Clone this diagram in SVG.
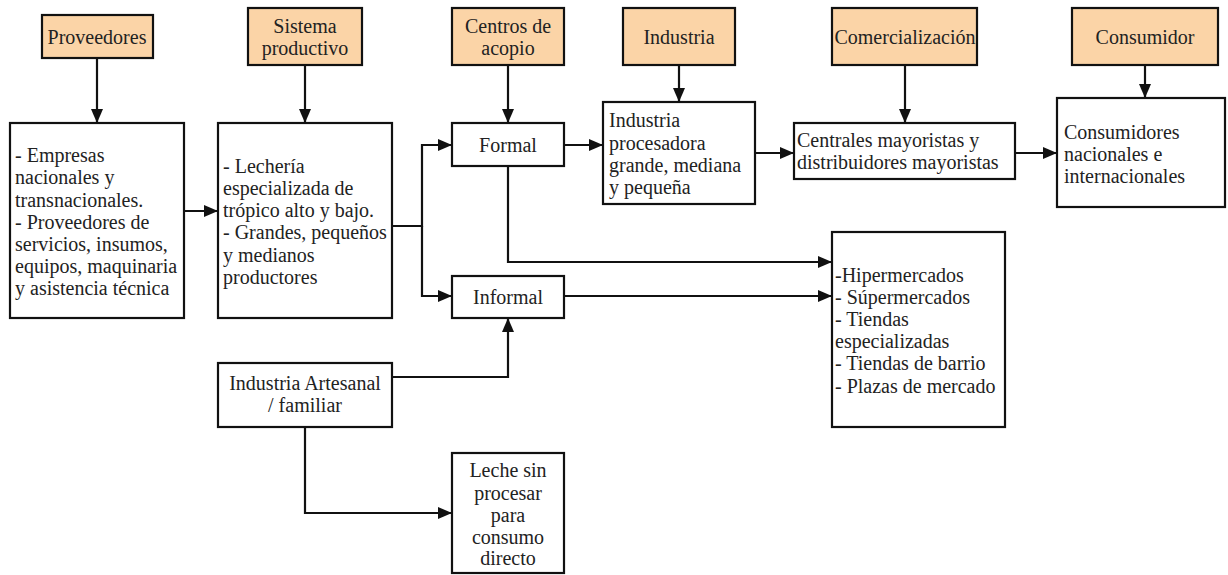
<svg xmlns="http://www.w3.org/2000/svg" width="1228" height="575" viewBox="0 0 1228 575">
<defs>
<style>
.hdr{fill:#FBD4A7;stroke:#111;stroke-width:2.2}
.box{fill:#fff;stroke:#111;stroke-width:2.2}
text{font-family:"Liberation Serif","DejaVu Serif",serif;font-size:20px;fill:#222}
.c{text-anchor:middle}
.conn path{fill:none;stroke:#111;stroke-width:2.2;marker-end:url(#ah)}
</style>
<marker id="ah" viewBox="0 0 14 12" refX="14" refY="6" markerWidth="14" markerHeight="12" markerUnits="userSpaceOnUse" orient="auto">
<path d="M0 0L14 6L0 12Z" fill="#111"/>
</marker>
</defs>
<rect width="1228" height="575" fill="#fff"/>

<g id="h-proveedores"><rect class="hdr" x="42" y="15" width="111" height="43"/><text class="c" x="97" y="44">Proveedores</text></g>
<g id="h-sistema"><rect class="hdr" x="248" y="8" width="114" height="57"/><text class="c" x="305" y="33">Sistema</text><text class="c" x="305" y="55">productivo</text></g>
<g id="h-centros"><rect class="hdr" x="452" y="8" width="112" height="57"/><text class="c" x="508" y="33">Centros de</text><text class="c" x="508" y="55">acopio</text></g>
<g id="h-industria"><rect class="hdr" x="623" y="8" width="112" height="57"/><text class="c" x="679" y="44">Industria</text></g>
<g id="h-comercializacion"><rect class="hdr" x="832" y="8" width="145" height="57"/><text class="c" x="905" y="44">Comercialización</text></g>
<g id="h-consumidor"><rect class="hdr" x="1072" y="8" width="146" height="57"/><text class="c" x="1145" y="44">Consumidor</text></g>

<g id="n-proveedores"><rect class="box" x="10" y="123" width="174" height="195"/>
<text><tspan x="15" y="162">- Empresas</tspan><tspan x="15" y="184">nacionales y</tspan><tspan x="15" y="207">transnacionales.</tspan><tspan x="15" y="229">- Proveedores de</tspan><tspan x="15" y="251">servicios, insumos,</tspan><tspan x="15" y="273">equipos, maquinaria</tspan><tspan x="15" y="295">y asistencia técnica</tspan></text></g>

<g id="n-sistema"><rect class="box" x="218" y="123" width="174" height="195"/>
<text><tspan x="223" y="173">- Lechería</tspan><tspan x="223" y="195">especializada de</tspan><tspan x="223" y="217">trópico alto y bajo.</tspan><tspan x="223" y="239">- Grandes, pequeños</tspan><tspan x="223" y="262">y medianos</tspan><tspan x="223" y="284">productores</tspan></text></g>

<g id="n-formal"><rect class="box" x="452" y="123" width="112" height="43"/><text class="c" x="508" y="152">Formal</text></g>
<g id="n-informal"><rect class="box" x="452" y="276" width="112" height="42"/><text class="c" x="508" y="304">Informal</text></g>

<g id="n-procesadora"><rect class="box" x="603" y="102" width="152" height="102"/>
<text><tspan x="609" y="127">Industria</tspan><tspan x="609" y="150">procesadora</tspan><tspan x="609" y="172">grande, mediana</tspan><tspan x="609" y="194">y pequeña</tspan></text></g>

<g id="n-centrales"><rect class="box" x="794" y="123" width="221" height="56"/>
<text><tspan x="797" y="147">Centrales mayoristas y</tspan><tspan x="797" y="169">distribuidores mayoristas</tspan></text></g>

<g id="n-consumidores"><rect class="box" x="1057" y="98" width="168" height="109"/>
<text><tspan x="1064" y="139">Consumidores</tspan><tspan x="1064" y="161">nacionales e</tspan><tspan x="1064" y="183">internacionales</tspan></text></g>

<g id="n-hiper"><rect class="box" x="832" y="232" width="173" height="195"/>
<text><tspan x="835" y="282">-Hipermercados</tspan><tspan x="835" y="304">- Súpermercados</tspan><tspan x="835" y="326">- Tiendas</tspan><tspan x="835" y="348">especializadas</tspan><tspan x="835" y="370">- Tiendas de barrio</tspan><tspan x="835" y="393">- Plazas de mercado</tspan></text></g>

<g id="n-artesanal"><rect class="box" x="218" y="363" width="174" height="64"/>
<text class="c"><tspan x="305" y="390">Industria Artesanal</tspan><tspan x="305" y="412">/ familiar</tspan></text></g>

<g id="n-leche"><rect class="box" x="452" y="453" width="112" height="120"/>
<text class="c"><tspan x="508" y="477">Leche sin</tspan><tspan x="508" y="500">procesar</tspan><tspan x="508" y="522">para</tspan><tspan x="508" y="544">consumo</tspan><tspan x="508" y="565">directo</tspan></text></g>

<g id="connectors" class="conn">
<path d="M97 58V123"/>
<path d="M305 65V123"/>
<path d="M508 65V123"/>
<path d="M679 65V102"/>
<path d="M905 65V123"/>
<path d="M1145 65V98"/>
<path d="M184 211H218"/>
<path d="M392 226H422V145H452"/>
<path d="M422 226V296H452"/>
<path d="M564 145H603"/>
<path d="M755 153H794"/>
<path d="M1015 153H1057"/>
<path d="M508 166V262H832"/>
<path d="M564 296H832"/>
<path d="M392 377H508V318"/>
<path d="M305 427V513H452"/>
</g>
</svg>
